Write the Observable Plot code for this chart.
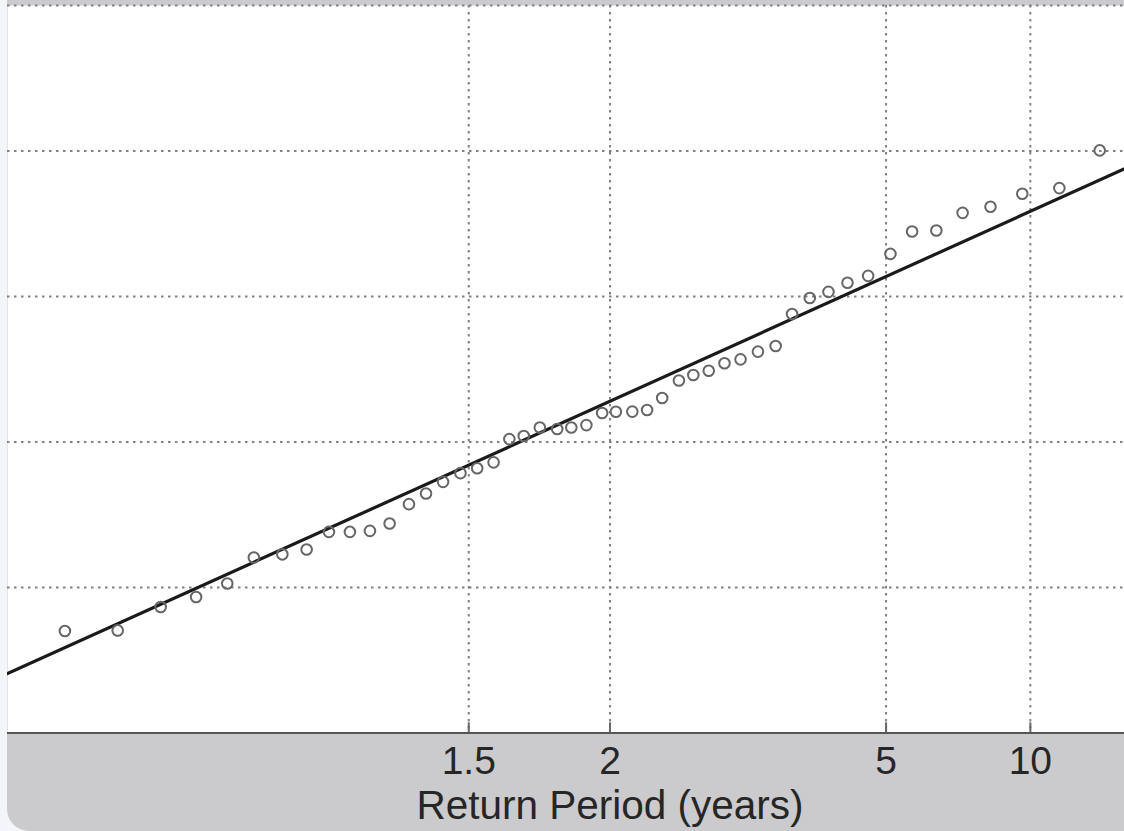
<!DOCTYPE html>
<html><head><meta charset="utf-8">
<script src="https://cdn.jsdelivr.net/npm/d3@7"></script>
<script src="https://cdn.jsdelivr.net/npm/@observablehq/plot@0.6"></script>
<style>
html,body{margin:0;padding:0;background:#f3f5f8;width:1124px;height:831px;overflow:hidden;}
#card{position:absolute;left:7px;top:0;width:1117px;height:831px;background:#cbcbce;border-bottom-left-radius:22px;overflow:hidden;}
#chart{position:absolute;left:0;top:0;}
#xlabel{position:absolute;left:353px;width:500px;top:790px;text-align:center;font-family:"Liberation Sans",Arial,sans-serif;font-size:40.5px;line-height:30px;color:#262626;white-space:nowrap;}
</style></head><body>
<div id="card"><div id="chart"></div><div id="xlabel">Return Period (years)</div></div>
<script>
// Observations: x = standard normal reduced variate of the plotting position, y = value (grid units)
const reducedVariate = [-1.662, -1.501, -1.370, -1.262, -1.167, -1.086, -0.999, -0.925, -0.857, -0.793,
  -0.732, -0.672, -0.613, -0.561, -0.509, -0.456, -0.405, -0.355, -0.307, -0.263,
  -0.214, -0.161, -0.118, -0.072, -0.024, 0.018, 0.068, 0.113, 0.159, 0.210,
  0.254, 0.301, 0.349, 0.398, 0.451, 0.505, 0.555, 0.609, 0.666, 0.724,
  0.787, 0.855, 0.921, 0.995, 1.075, 1.160, 1.257, 1.370, 1.493];
const observed = [0.701, 0.705, 0.866, 0.935, 1.027, 1.206, 1.228, 1.261, 1.382, 1.382,
  1.389, 1.440, 1.573, 1.646, 1.726, 1.786, 1.820, 1.860, 2.020, 2.041,
  2.100, 2.089, 2.100, 2.116, 2.199, 2.208, 2.209, 2.220, 2.302, 2.423,
  2.460, 2.490, 2.541, 2.568, 2.621, 2.660, 2.880, 2.990, 3.032, 3.094,
  3.142, 3.293, 3.447, 3.454, 3.575, 3.617, 3.706, 3.745, 4.004];
// Fitted distribution line (end points)
const fitVariate = [-1.837, 1.569];
const fitValue = [0.409, 3.878];
// Axis settings
const xDomain = [-1.837, 1.5686];
const yDomain = [0, 5];
const returnPeriodTicks = [1.5, 2, 5, 10];
const yGrid = [0, 1, 2, 3, 4, 5];

// inverse standard normal CDF (Acklam)
function probit(p) {
  const a = [-3.969683028665376e+01, 2.209460984245205e+02, -2.759285104469687e+02, 1.383577518672690e+02, -3.066479806614716e+01, 2.506628277459239e+00];
  const b = [-5.447609879822406e+01, 1.615858368580409e+02, -1.556989798598866e+02, 6.680131188771972e+01, -1.328068155288572e+01];
  const c = [-7.784894002430293e-03, -3.223964580411365e-01, -2.400758277161838e+00, -2.549732539343734e+00, 4.374664141464968e+00, 2.938163982698783e+00];
  const d = [7.784695709041462e-03, 3.224671290700398e-01, 2.445134137142996e+00, 3.754408661907416e+00];
  const pl = 0.02425, ph = 1 - pl;
  let q, r;
  if (p < pl) {
    q = Math.sqrt(-2 * Math.log(p));
    return (((((c[0]*q+c[1])*q+c[2])*q+c[3])*q+c[4])*q+c[5]) / ((((d[0]*q+d[1])*q+d[2])*q+d[3])*q+1);
  } else if (p <= ph) {
    q = p - 0.5; r = q*q;
    return (((((a[0]*r+a[1])*r+a[2])*r+a[3])*r+a[4])*r+a[5])*q / (((((b[0]*r+b[1])*r+b[2])*r+b[3])*r+b[4])*r+1);
  } else {
    q = Math.sqrt(-2 * Math.log(1 - p));
    return -(((((c[0]*q+c[1])*q+c[2])*q+c[3])*q+c[4])*q+c[5]) / ((((d[0]*q+d[1])*q+d[2])*q+d[3])*q+1);
  }
}
const variateOfT = T => probit(1 - 1 / T);

const points = reducedVariate.map((z, i) => ({z, v: observed[i]}));
const fit = fitVariate.map((z, i) => ({z, v: fitValue[i]}));
const ticks = returnPeriodTicks.map(T => ({T, z: variateOfT(T)}));
const labelByZ = new Map(ticks.map(d => [d.z, String(d.T)]));

const chart = Plot.plot({
  width: 1117, height: 831,
  marginLeft: 0, marginRight: 0, marginTop: 5, marginBottom: 98.5,
  style: {background: "transparent", fontFamily: "'Liberation Sans', Arial, sans-serif", color: "#262626", overflow: "visible"},
  x: {type: "linear", domain: xDomain, axis: null, label: null},
  y: {domain: yDomain, axis: null, label: null},
  marks: [
    Plot.frame({fill: "white", stroke: null}),
    Plot.ruleY(yGrid, {stroke: "#808080", strokeWidth: 2, strokeDasharray: "2.5,4.5"}),
    Plot.ruleX(ticks, {x: "z", stroke: "#808080", strokeWidth: 2, strokeDasharray: "2.5,4.5"}),
    Plot.ruleX(ticks, {x: "z", y1: yDomain[0], y2: 0.07, stroke: "#666", strokeWidth: 2}),
    Plot.line(fit, {x: "z", y: "v", stroke: "#1a1a1a", strokeWidth: 3.2}),
    Plot.dot(points, {x: "z", y: "v", r: 5.3, stroke: "#666", strokeWidth: 2, fill: "none"}),
    Plot.ruleY([yDomain[0]], {stroke: "#555", strokeWidth: 2}),
    Plot.axisX(ticks.map(d => d.z), {anchor: "bottom", tickSize: 0, tickPadding: 13, fontSize: 39, label: null,
      tickFormat: z => labelByZ.get(z), fill: "#262626"})
  ]
});
document.getElementById("chart").appendChild(chart);
</script>
</body></html>
